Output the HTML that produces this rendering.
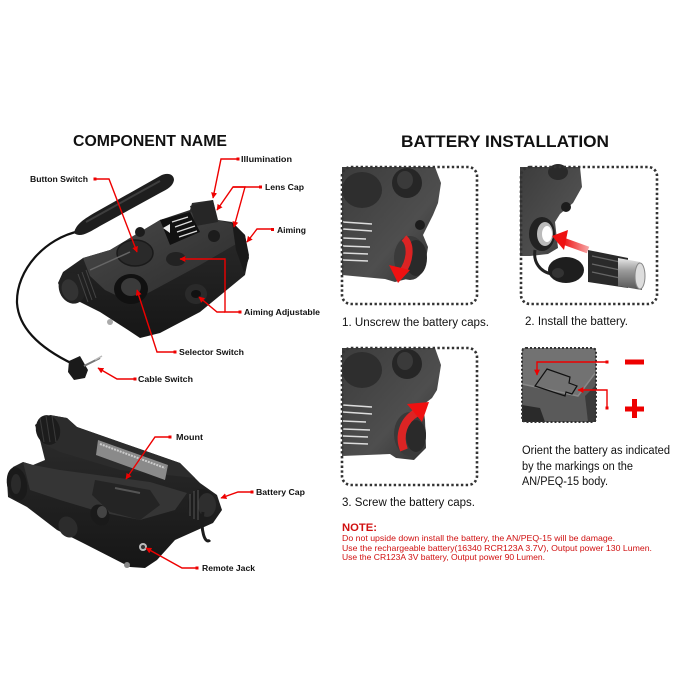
<!DOCTYPE html>
<html><head><meta charset="utf-8">
<style>
html,body{margin:0;padding:0;background:#fff;}
svg{display:block;}
text{font-family:"Liberation Sans",Arial,sans-serif;}
.lb{font-size:8px;font-weight:bold;fill:#111;}
.cap{font-size:11.5px;fill:#111;}
.rl{stroke:#e00;stroke-width:1.4;fill:none;}
.nt{font-size:8.2px;fill:#d01010;}
</style></head>
<body>
<svg width="680" height="680" viewBox="0 0 680 680" xmlns="http://www.w3.org/2000/svg">
<defs>
<marker id="ah" viewBox="0 0 10 10" refX="9" refY="5" markerWidth="6" markerHeight="6" orient="auto" markerUnits="userSpaceOnUse">
<path d="M0,0 L10,5 L0,10 z" fill="#e00"/>
</marker>
<linearGradient id="topg" x1="0" y1="0" x2="1" y2="1">
<stop offset="0" stop-color="#4a4a4a"/><stop offset="1" stop-color="#2a2a2a"/>
</linearGradient>
<linearGradient id="frontg" x1="0" y1="0" x2="0" y2="1">
<stop offset="0" stop-color="#2e2e2e"/><stop offset="1" stop-color="#161616"/>
</linearGradient>
<linearGradient id="pg" x1="0" y1="0" x2="1" y2="1">
<stop offset="0" stop-color="#3c3c3c"/><stop offset="0.6" stop-color="#4e4e4e"/><stop offset="1" stop-color="#2e2e2e"/>
</linearGradient>
<linearGradient id="redg" x1="0" y1="0" x2="1" y2="0">
<stop offset="0" stop-color="#ee1111"/><stop offset="1" stop-color="#f5a0a0"/>
</linearGradient>
<linearGradient id="bat" x1="0" y1="0" x2="0" y2="1">
<stop offset="0" stop-color="#e8e8e8"/><stop offset="0.4" stop-color="#9a9a9a"/><stop offset="1" stop-color="#555"/>
</linearGradient>
</defs>

<!-- Titles -->
<text x="73" y="146" font-size="16" font-weight="bold" fill="#111" textLength="154" lengthAdjust="spacingAndGlyphs">COMPONENT NAME</text>
<text x="401" y="147" font-size="17" font-weight="bold" fill="#111" textLength="208" lengthAdjust="spacingAndGlyphs">BATTERY INSTALLATION</text>

<!-- ===== Top-left device ===== -->
<!-- cable -->
<path d="M80,231 C45,238 16,270 17,303 C19,333 48,352 73,364" stroke="#111" stroke-width="2.2" fill="none"/>
<!-- button pad -->
<path d="M74,233 C76,224 84,219 96,212 L160,176 C167,172 174,174 174,180 C173,186 168,189 160,193 L100,226 C88,233 80,238 74,233 z" fill="#1e1e1e"/>
<path d="M86,222 L160,181" stroke="#3e3e3e" stroke-width="2"/>
<!-- plug -->
<path d="M69,361 L80,356 L88,370 L85,378 L74,380 L68,372 z" fill="#1a1a1a"/>
<path d="M84,366 L100,358" stroke="#777" stroke-width="2"/>
<path d="M95,360 L102,356" stroke="#bbb" stroke-width="1.5"/>
<!-- body -->
<path d="M58,283 L63,272 L83,258 L110,250 L160,220 L190,210 L192,203 L213,200 L218,220 L232,222 L245,235 L249,255 L245,275 L200,312 L160,333 L140,338 L128,330 L100,312 L80,302 L64,295 z" fill="url(#frontg)"/>
<path d="M83,258 L110,250 L160,220 L190,212 L218,220 L232,224 L243,240 L200,265 L150,292 L130,302 L105,290 L90,276 z" fill="url(#topg)"/>
<!-- back tube -->
<path d="M190,206 L213,200 L218,222 L196,226 z" fill="#262626"/>
<path d="M232,222 L245,235 L249,258 L244,272 L236,250 z" fill="#1a1a1a"/>
<!-- left cap -->
<ellipse cx="72" cy="288" rx="13" ry="16" fill="#222" transform="rotate(-20 72 288)"/>
<ellipse cx="70" cy="290" rx="8" ry="11" fill="#333" transform="rotate(-20 70 290)"/>
<path d="M78,274 L88,302 M82,272 L92,300 M86,270 L96,298" stroke="#444" stroke-width="1"/>
<!-- danger sticker -->
<path d="M160,220 L190,212 L200,232 L170,245 z" fill="#111"/>
<path d="M172,222 L188,217 M175,227 L192,221 M177,232 L195,226 M179,237 L197,231" stroke="#ddd" stroke-width="1.2"/>
<path d="M163,228 L170,224 L170,233 z" fill="#eee"/>
<!-- round button -->
<ellipse cx="135" cy="253" rx="18" ry="13" fill="#2a2a2a" stroke="#1a1a1a" stroke-width="1.5"/>
<!-- selector knob -->
<ellipse cx="131" cy="289" rx="17" ry="15" fill="#111"/>
<ellipse cx="131" cy="287" rx="10" ry="9" fill="#3a3a3a"/>
<!-- aiming knobs -->
<ellipse cx="176" cy="259" rx="10" ry="7" fill="#222"/>
<ellipse cx="196" cy="294" rx="11" ry="10" fill="#2a2a2a"/>
<ellipse cx="196" cy="294" rx="5" ry="4" fill="#111"/>
<circle cx="214" cy="236" r="6" fill="#1c1c1c"/>
<circle cx="140" cy="232" r="5" fill="#1c1c1c"/>
<path d="M90,270 L130,252" stroke="#666" stroke-width="1.5"/>
<circle cx="110" cy="322" r="3" fill="#aaa"/>

<!-- labels top-left -->
<text class="lb" x="241" y="162" textLength="51" lengthAdjust="spacingAndGlyphs">Illumination</text>
<text class="lb" x="265" y="190" textLength="39" lengthAdjust="spacingAndGlyphs">Lens Cap</text>
<text class="lb" x="277" y="233" textLength="29" lengthAdjust="spacingAndGlyphs">Aiming</text>
<text class="lb" x="30" y="182" textLength="58" lengthAdjust="spacingAndGlyphs">Button Switch</text>
<text class="lb" x="244" y="315" textLength="76" lengthAdjust="spacingAndGlyphs">Aiming Adjustable</text>
<text class="lb" x="179" y="355" textLength="65" lengthAdjust="spacingAndGlyphs">Selector Switch</text>
<text class="lb" x="138" y="382" textLength="55" lengthAdjust="spacingAndGlyphs">Cable Switch</text>

<!-- red connectors -->
<g fill="#e00">
<rect x="236.5" y="157.5" width="3" height="3"/>
<rect x="259" y="185.5" width="3" height="3"/>
<rect x="271" y="228" width="3" height="3"/>
<rect x="93.5" y="177.5" width="3" height="3"/>
<rect x="238.5" y="310.5" width="3" height="3"/>
<rect x="173.5" y="350.5" width="3" height="3"/>
<rect x="133.5" y="377.5" width="3" height="3"/>
<rect x="168.5" y="435.5" width="3" height="3"/>
<rect x="250.5" y="490.5" width="3" height="3"/>
<rect x="195.5" y="566.5" width="3" height="3"/>
</g>
<path class="rl" d="M238,159 L221,159 L213,198" marker-end="url(#ah)"/>
<path class="rl" d="M260,187 L233,187 L217,210" marker-end="url(#ah)"/>
<path class="rl" d="M233,187 L245,187 L234,227" marker-end="url(#ah)"/>
<path class="rl" d="M272,229 L257,229 L247,242" marker-end="url(#ah)"/>
<path class="rl" d="M95,179 L109,179 L137,252" marker-end="url(#ah)"/>
<path class="rl" d="M240,312 L225,312 L225,259 L180,259" marker-end="url(#ah)"/>
<path class="rl" d="M225,312 L217,312 L199,297" marker-end="url(#ah)"/>
<path class="rl" d="M175,352 L157,352 L137,290" marker-end="url(#ah)"/>
<path class="rl" d="M135,379 L117,379 L98,368" marker-end="url(#ah)"/>

<!-- ===== Bottom-left device ===== -->
<path d="M8,497 L7,480 L13,467 L23,462 L33,465 L45,460 L40,440 L35,425 L50,415 L67,418 L77,427 L180,463 L200,483 L217,495 L222,510 L213,523 L175,540 L157,560 L145,568 L130,567 L83,543 L57,530 L27,507 z" fill="url(#frontg)"/>
<!-- back tube -->
<path d="M35,425 L50,415 L67,418 L77,427 L180,463 L195,478 L120,470 L60,452 L45,445 z" fill="#2c2c2c"/>
<ellipse cx="48" cy="430" rx="12" ry="15" fill="#1c1c1c" transform="rotate(-15 48 430)"/>
<path d="M40,418 L44,442 M46,416 L50,442 M52,416 L56,442" stroke="#3a3a3a" stroke-width="1"/>
<!-- rail light stripe -->
<path d="M98,440 L168,465 L165,480 L96,455 z" fill="#8a8a8a"/>
<path d="M100,444 L165,468" stroke="#ccc" stroke-width="2" stroke-dasharray="2 1"/>
<!-- front top face -->
<path d="M23,462 L33,465 L60,470 L150,482 L187,493 L175,510 L140,520 L100,512 L60,500 L30,490 z" fill="#353535"/>
<!-- mount block -->
<path d="M95,480 L150,490 L160,505 L140,520 L110,512 L92,495 z" fill="#242424"/>
<path d="M115,488 L140,493" stroke="#555" stroke-width="2"/>
<!-- front cap -->
<ellipse cx="17" cy="484" rx="10" ry="17" fill="#1a1a1a" transform="rotate(-10 17 484)"/>
<ellipse cx="16" cy="484" rx="5" ry="10" fill="#2a2a2a"/>
<!-- knob -->
<ellipse cx="100" cy="515" rx="9" ry="11" fill="#1a1a1a" transform="rotate(-30 100 515)"/>
<ellipse cx="102" cy="512" rx="5" ry="6" fill="#444"/>
<!-- battery cap -->
<ellipse cx="202" cy="505" rx="14" ry="16" fill="#1c1c1c"/>
<ellipse cx="207" cy="505" rx="9" ry="12" fill="#2e2e2e"/>
<path d="M190,494 L190,516 M194,491 L194,519 M198,490 L198,520" stroke="#555" stroke-width="1"/>
<path d="M203,512 C200,530 205,545 210,540" stroke="#1c1c1c" stroke-width="3" fill="none"/>
<!-- side ellipse -->
<ellipse cx="68" cy="527" rx="9" ry="11" fill="#2c2c2c" transform="rotate(-30 68 527)"/>
<circle cx="143" cy="547" r="4" fill="#bbb"/>
<circle cx="143" cy="547" r="2" fill="#333"/>
<circle cx="127" cy="565" r="3" fill="#888"/>

<text class="lb" x="176" y="440" textLength="27" lengthAdjust="spacingAndGlyphs">Mount</text>
<text class="lb" x="256" y="495" textLength="49" lengthAdjust="spacingAndGlyphs">Battery Cap</text>
<text class="lb" x="202" y="571" textLength="53" lengthAdjust="spacingAndGlyphs">Remote Jack</text>
<path class="rl" d="M170,437 L155,437 L126,479" marker-end="url(#ah)"/>
<path class="rl" d="M252,492 L238,492 L221,498" marker-end="url(#ah)"/>
<path class="rl" d="M197,568 L182,568 L146,548" marker-end="url(#ah)"/>

<!-- ===== Panel 1 ===== -->
<path d="M342,167 L435,167 L441,183 L438,203 L433,215 L427,227 L423,235 L428,247 L425,265 L415,277 L395,282 L385,279 L342,275 z" fill="url(#pg)"/>
<ellipse cx="362" cy="190" rx="20" ry="18" fill="#2e2e2e"/>
<ellipse cx="407" cy="183" rx="15" ry="15" fill="#262626"/>
<ellipse cx="405" cy="180" rx="8" ry="9" fill="#3a3a3a"/>
<circle cx="420" cy="225" r="5" fill="#1c1c1c"/>
<path d="M343,222 L372,224 M343,229 L372,231 M343,238 L366,239 M343,246 L370,247 M343,253 L368,254 M343,260 L368,261" stroke="#ddd" stroke-width="1.4"/>
<ellipse cx="410" cy="258" rx="16" ry="22" fill="#3a3a3a"/>
<ellipse cx="416" cy="258" rx="11" ry="18" fill="#2a2a2a"/>
<path d="M404,238 C412,245 410,262 402,272" stroke="#e22" stroke-width="7" fill="none" opacity="0.9"/>
<path d="M389,265 L410,270 L398,283 z" fill="#e11"/>
<rect x="342" y="167" width="135" height="137" rx="9" fill="none" stroke="#333" stroke-width="2.6" stroke-dasharray="2.4 2.4"/>
<text class="cap" x="342" y="326" textLength="147" lengthAdjust="spacingAndGlyphs">1. Unscrew the battery caps.</text>

<!-- ===== Panel 2 ===== -->
<path d="M520,167 L580,167 L582,187 L573,203 L560,214 L555,222 L558,248 L548,254 L530,256 L520,256 z" fill="url(#pg)"/>
<ellipse cx="542" cy="234" rx="13" ry="17" fill="#222"/>
<ellipse cx="545" cy="234" rx="8" ry="12" fill="#bbb"/>
<ellipse cx="547" cy="234" rx="5" ry="8" fill="#fff"/>
<circle cx="566" cy="207" r="5" fill="#1c1c1c"/>
<ellipse cx="558" cy="172" rx="10" ry="8" fill="#2a2a2a"/>
<path d="M535,250 C533,262 540,272 552,274" stroke="#222" stroke-width="3" fill="none"/>
<ellipse cx="566" cy="270" rx="18" ry="13" fill="#1e1e1e"/>
<ellipse cx="558" cy="273" rx="6" ry="5" fill="#333"/>
<path d="M588,250 L628,258 L628,288 L588,282 z" fill="#2a2a2a"/>
<path d="M592,256 L620,262 M592,264 L620,270 M592,272 L620,278" stroke="#666" stroke-width="1.2"/>
<path d="M618,258 L640,262 L642,290 L618,286 z" fill="url(#bat)"/>
<ellipse cx="640" cy="276" rx="5" ry="13" fill="#ddd" stroke="#888"/>
<path d="M588,250 L563,241" stroke="url(#redg)" stroke-width="7"/>
<path d="M552,236 L568,230 L564,250 z" fill="#e11"/>
<rect x="521" y="167" width="136" height="137" rx="9" fill="none" stroke="#333" stroke-width="2.6" stroke-dasharray="2.4 2.4"/>
<text class="cap" x="525" y="325" textLength="103" lengthAdjust="spacingAndGlyphs">2. Install the battery.</text>

<!-- ===== Panel 3 ===== -->
<path d="M342,348 L435,348 L441,365 L437,390 L432,398 L423,405 L425,420 L426,448 L414,460 L396,458 L390,454 L342,456 z" fill="url(#pg)"/>
<ellipse cx="362" cy="370" rx="20" ry="18" fill="#2e2e2e"/>
<ellipse cx="407" cy="364" rx="15" ry="15" fill="#262626"/>
<ellipse cx="405" cy="361" rx="8" ry="9" fill="#3a3a3a"/>
<path d="M343,405 L372,407 M343,412 L372,414 M343,421 L366,422 M343,429 L370,430 M343,436 L368,437 M343,443 L368,444" stroke="#ddd" stroke-width="1.4"/>
<ellipse cx="410" cy="434" rx="16" ry="22" fill="#3a3a3a"/>
<ellipse cx="416" cy="436" rx="10" ry="16" fill="#2a2a2a"/>
<path d="M404,450 C398,435 404,420 416,413" stroke="#e22" stroke-width="8" fill="none" opacity="0.9"/>
<path d="M407,404 L429,402 L422,422 z" fill="#e11"/>
<rect x="342" y="348" width="135" height="137" rx="9" fill="none" stroke="#333" stroke-width="2.6" stroke-dasharray="2.4 2.4"/>
<text class="cap" x="342" y="506" textLength="133" lengthAdjust="spacingAndGlyphs">3. Screw the battery caps.</text>

<!-- ===== Panel 4 ===== -->
<rect x="522" y="348" width="74" height="74" rx="4" fill="#5a5a5a"/>
<path d="M522,348 L596,348 L596,372 L578,396 L522,384 z" fill="#727272"/>
<path d="M522,384 L578,396 L596,372" stroke="#888" stroke-width="1.5" fill="none"/>
<path d="M522,405 L540,408 L545,422 L522,422 z" fill="#2a2a2a"/>
<path d="M585,396 L596,385 L596,422 L588,422 z" fill="#3a3a3a"/>
<path d="M547,369 L570,377 L569,383 L577,386 L572,394 L566,392 L565,396 L535,386 z" fill="none" stroke="#111" stroke-width="1.2"/>
<rect x="522" y="348" width="74" height="74" rx="4" fill="none" stroke="#333" stroke-width="2" stroke-dasharray="2 2"/>
<path class="rl" d="M607,362 L537,362 L537,375" marker-end="url(#ah)"/>
<path class="rl" d="M607,408 L607,390 L578,390" marker-end="url(#ah)"/>
<rect x="605.5" y="360.5" width="3" height="3" fill="#e00"/>
<rect x="605.5" y="406.5" width="3" height="3" fill="#e00"/>
<rect x="625" y="359.5" width="19" height="5" fill="#e00"/>
<rect x="625" y="406.5" width="19" height="5" fill="#e00"/>
<rect x="632" y="399" width="5" height="19" fill="#e00"/>

<text class="cap" x="522" y="454" font-size="12" textLength="148" lengthAdjust="spacingAndGlyphs">Orient the battery as indicated</text>
<text class="cap" x="522" y="470" font-size="12" textLength="111" lengthAdjust="spacingAndGlyphs">by the markings on the</text>
<text class="cap" x="522" y="485" font-size="12" textLength="86" lengthAdjust="spacingAndGlyphs">AN/PEQ-15 body.</text>

<!-- NOTE -->
<text x="342" y="531" font-size="11" font-weight="bold" fill="#d01010" textLength="35" lengthAdjust="spacingAndGlyphs">NOTE:</text>
<text class="nt" x="342" y="541" textLength="273" lengthAdjust="spacingAndGlyphs">Do not upside down install the battery, the AN/PEQ-15 will be damage.</text>
<text class="nt" x="342" y="551" textLength="310" lengthAdjust="spacingAndGlyphs">Use the rechargeable battery(16340 RCR123A 3.7V), Output power 130 Lumen.</text>
<text class="nt" x="342" y="560" textLength="203" lengthAdjust="spacingAndGlyphs">Use the CR123A 3V battery, Output power 90 Lumen.</text>
</svg>
</body></html>
